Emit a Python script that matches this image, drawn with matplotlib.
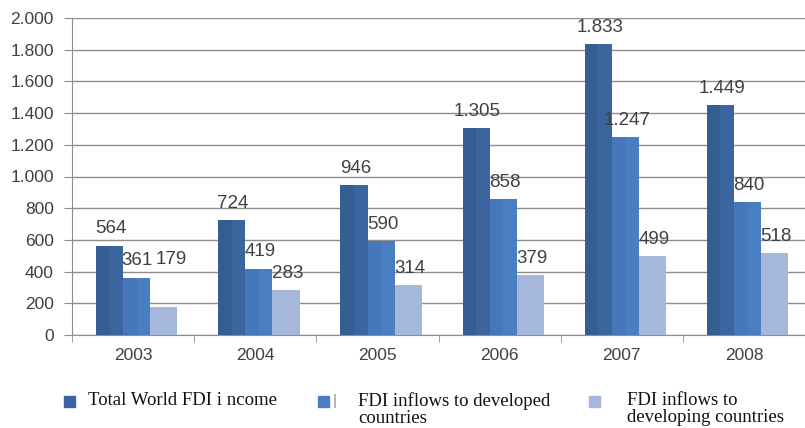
import matplotlib
matplotlib.use("Agg")
import matplotlib.pyplot as plt
from matplotlib.patches import Rectangle
from matplotlib.ticker import FuncFormatter, FixedLocator
import numpy as np

years = ["2003", "2004", "2005", "2006", "2007", "2008"]
total_world = [564, 724, 946, 1305, 1833, 1449]
developed = [361, 419, 590, 858, 1247, 840]
developing = [179, 283, 314, 379, 499, 518]
series_names = ["Total World FDI i ncome",
                "FDI inflows to developed\ncountries",
                "FDI inflows to\ndeveloping countries"]

colors = ["#3b659f", "#4a7ec2", "#a5b8db"]
shade = [0.08, 0.05, 0.0]
txt_color = "#404040"
grid_color = "#8e8e8e"

def dot_thousands(v, pos=None):
    return f"{int(round(v)):,}".replace(",", ".")

fig = plt.figure(figsize=(8.05, 4.28), dpi=100)
ax = fig.add_axes([72 / 805, 1 - 335 / 428, 1 - 72 / 805, (335 - 18) / 428])

x = np.arange(len(years))
w = 0.222
series = [total_world, developed, developing]
# some labels are nudged in the original (the 179 one sits high, next to 361)
label_nudge = {(1, 0): (-1, 0), (2, 0): (4, 22)}

for i, (vals, c) in enumerate(zip(series, colors)):
    pos = x + (i - 1) * w + 0.03
    ax.bar(pos, vals, width=w, color=c, zorder=3, linewidth=0, antialiased=False)
    # darker left half, like the shaded excel bars
    if shade[i] > 0:
        ax.bar(pos - w / 4, vals, width=w / 2, color="black", alpha=shade[i], zorder=3,
               linewidth=0, antialiased=False)
    for j, (p, v) in enumerate(zip(pos, vals)):
        dx, dy = label_nudge.get((i, j), (0, 0))
        ax.annotate(dot_thousands(v), (p, v), xytext=(1 + dx, 6 + dy),
                    textcoords="offset points", ha="center", va="bottom",
                    fontsize=13.5, color=txt_color, family="Liberation Sans", zorder=4)

ax.set_xlim(-0.5, len(years) - 0.5)
ax.set_ylim(0, 2000)
ax.set_yticks(np.arange(0, 2001, 200))
ax.yaxis.set_major_formatter(FuncFormatter(dot_thousands))
ax.yaxis.grid(True, color=grid_color, linewidth=1, zorder=0)

ax.set_xticks(x)
ax.set_xticklabels(years)
ax.xaxis.set_minor_locator(FixedLocator(np.arange(-0.5, len(years), 1.0)))
ax.tick_params(axis="x", which="major", length=0, pad=9)
ax.tick_params(axis="x", which="minor", length=5, color=grid_color, direction="out")
ax.tick_params(axis="y", length=6, color=grid_color, pad=7)
for lab in ax.get_xticklabels() + ax.get_yticklabels():
    lab.set_fontsize(12.5)
    lab.set_color(txt_color)
    lab.set_family("Liberation Sans")

for side in ["top", "right"]:
    ax.spines[side].set_visible(False)
ax.spines["left"].set_color(grid_color)
ax.spines["bottom"].set_color(grid_color)

# legend drawn by hand, as in the original picture
W, H = 805, 428
marker_x = [64, 318, 589]
text_x = [88, 358, 627]
for mx, tx, c, name in zip(marker_x, text_x, colors, series_names):
    fig.add_artist(Rectangle((mx / W, 1 - 407 / H), 11 / W, 11 / H,
                             transform=fig.transFigure, color=c))
    fig.text(tx / W, 1 - 392 / H, name, ha="left", va="top", fontsize=13.5,
             family="Liberation Serif", color="#111111", linespacing=0.98)
fig.text(333 / W, 1 - 401 / H, "|", ha="left", va="center", fontsize=11,
         color="#888888", family="Liberation Sans")

fig.savefig("out.png", dpi=100)
